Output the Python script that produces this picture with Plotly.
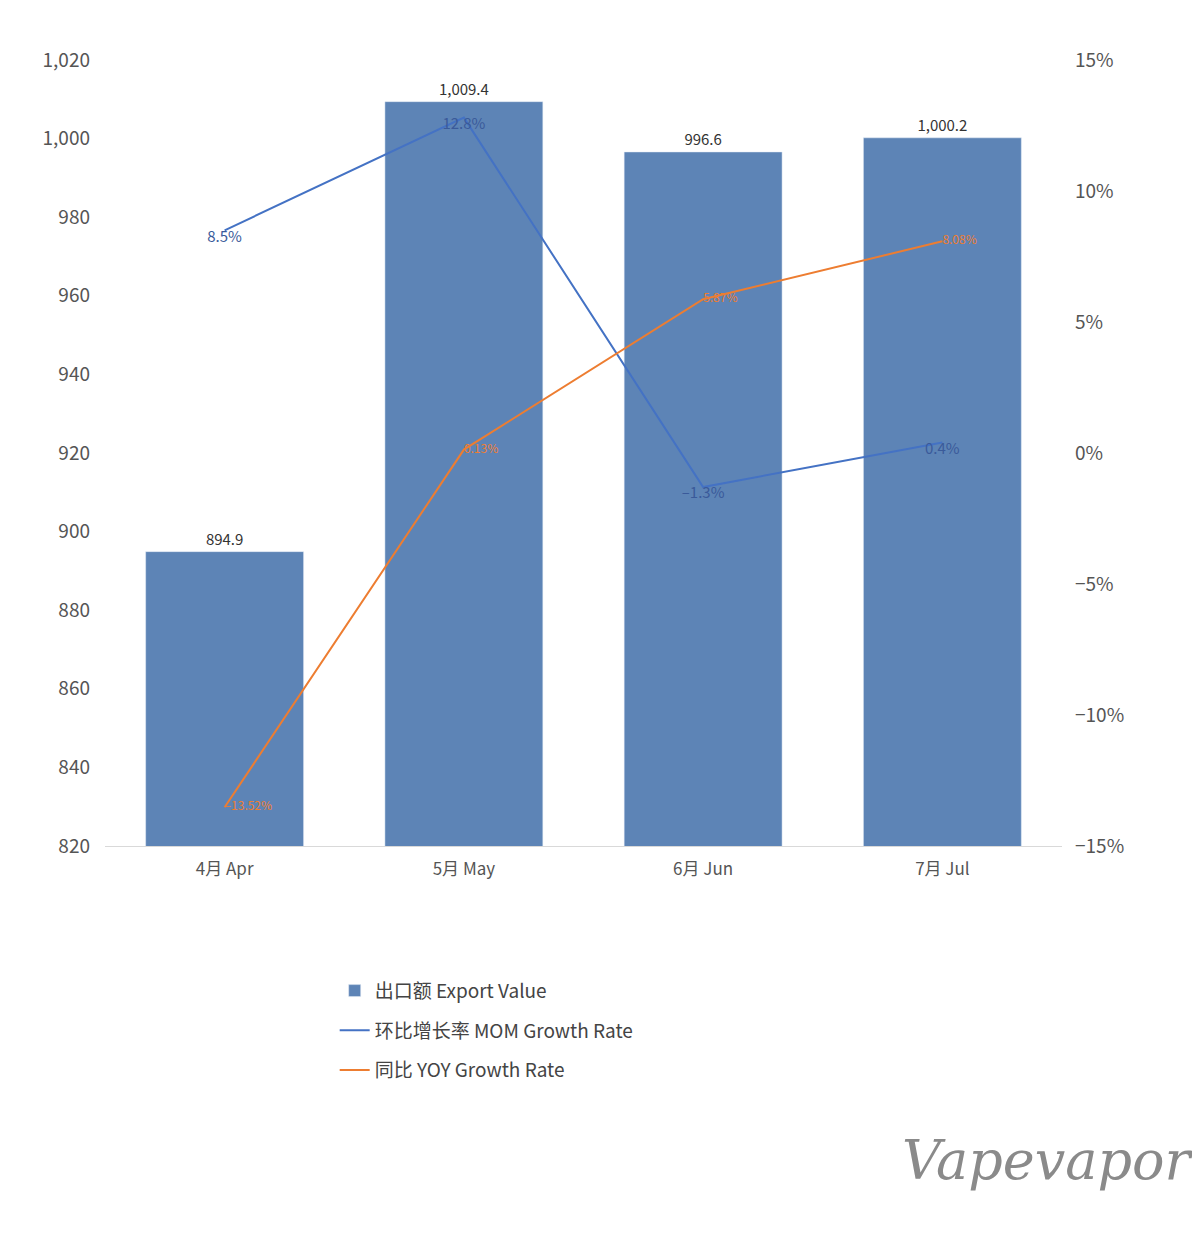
import plotly.graph_objects as go

months = ["4月 Apr", "5月 May", "6月 Jun", "7月 Jul"]
export_value = [894.9, 1009.4, 996.6, 1000.2]
mom_rate = [8.5, 12.8, -1.3, 0.4]
yoy_rate = [-13.52, 0.13, 5.87, 8.08]

font = "Noto Sans CJK SC, Noto Sans, sans-serif"

fig = go.Figure()

fig.add_trace(go.Bar(
    x=months, y=export_value,
    name="出口额 Export Value",
    legendgroup="a",
    marker_color="#5d84b6",
    width=0.66,
    text=[f"{v:,.1f}" for v in export_value],
    textposition="outside",
    textfont=dict(size=15, color="#333"),
    cliponaxis=False,
))

fig.add_trace(go.Scatter(
    x=months, y=mom_rate, yaxis="y2",
    name="环比增长率 MOM Growth Rate",
    legendgroup="b",
    mode="lines+text",
    line=dict(color="#4472c4", width=2),
    text=[f"{v}%".replace("-", "–") for v in mom_rate],
    textposition="bottom center",
    textfont=dict(size=15, color="#3a5a9a"),
))

fig.add_trace(go.Scatter(
    x=months, y=yoy_rate, yaxis="y2",
    name="同比 YOY Growth Rate",
    legendgroup="c",
    mode="lines+text",
    line=dict(color="#ed7d31", width=2),
    text=[f"{v:.2f}%".replace("-", "–") for v in yoy_rate],
    textposition="middle right",
    textfont=dict(size=12, color="#ed7d31"),
))

fig.update_layout(
    width=1200, height=1239,
    margin=dict(l=97, r=146, t=52, b=401),
    plot_bgcolor="white", paper_bgcolor="white",
    font=dict(family=font, color="#555"),
    showlegend=True,
    legend=dict(
        x=0.24, y=-0.16, xanchor="left", yanchor="top",
        font=dict(size=19, color="#444"),
        tracegroupgap=12, itemwidth=30,
    ),
    xaxis=dict(
        showline=True, linecolor="#d9d9d9", ticks="",
        tickfont=dict(size=17, color="#555"), ticklabelstandoff=8,
    ),
    yaxis=dict(
        range=[820, 1020], dtick=20, tickformat=",",
        showgrid=False, zeroline=False,
        tickfont=dict(size=19, color="#555"), ticklabelstandoff=14,
    ),
    yaxis2=dict(
        overlaying="y", side="right",
        range=[-15, 15], dtick=5, ticksuffix="%",
        showgrid=False, zeroline=False,
        tickfont=dict(size=19, color="#555"), ticklabelstandoff=12,
    ),
)

fig.add_annotation(
    text="<i>Vapevapor</i>", xref="paper", yref="paper",
    x=1.14, y=-0.4, xanchor="right", yanchor="middle",
    showarrow=False,
    font=dict(family="DejaVu Serif, serif", size=54, color="#8a8a8a"),
)

fig.write_html("out.html")
